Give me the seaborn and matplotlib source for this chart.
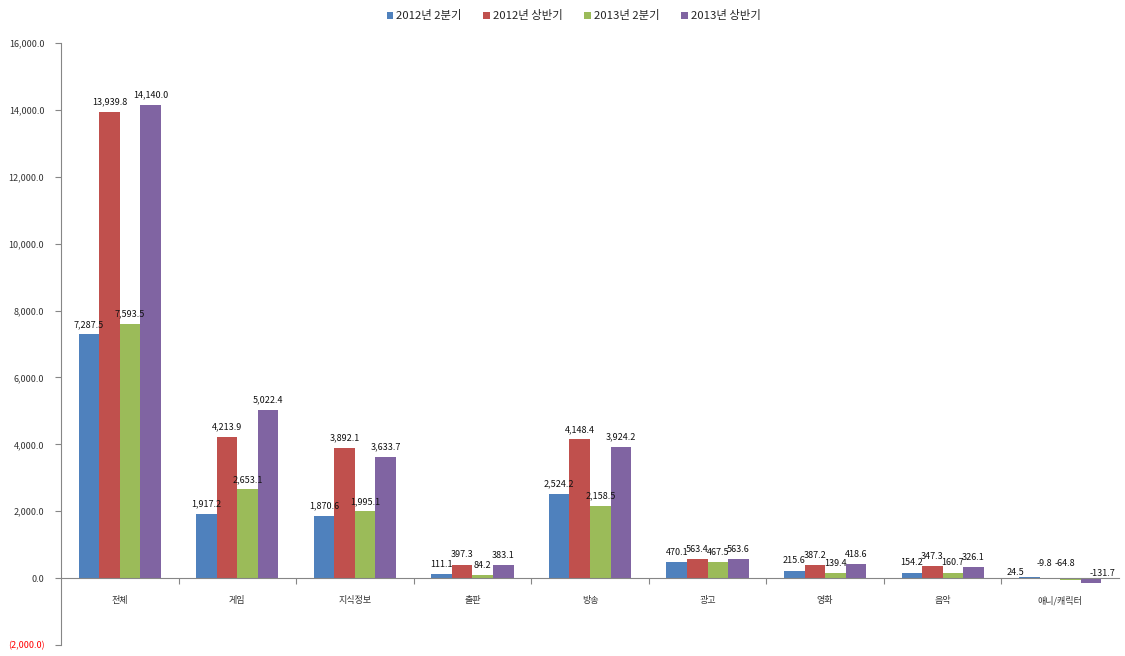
import matplotlib
matplotlib.use("Agg")
import matplotlib.pyplot as plt
import seaborn as sns
import pandas as pd
import numpy as np
from matplotlib.ticker import FuncFormatter, FixedLocator
from matplotlib.patches import Patch

categories = ["전체", "게임", "지식정보", "출판", "방송", "광고", "영화", "음악", "애니/캐릭터"]
series_names = ["2012년 2분기", "2012년 상반기", "2013년 2분기", "2013년 상반기"]
s2012q2 = [7287.5, 1917.2, 1870.6, 111.1, 2524.2, 470.1, 215.6, 154.2, 24.5]
s2012h1 = [13939.8, 4213.9, 3892.1, 397.3, 4148.4, 563.4, 387.2, 347.3, -9.8]
s2013q2 = [7593.5, 2653.1, 1995.1, 84.2, 2158.5, 467.5, 139.4, 160.7, -64.8]
s2013h1 = [14140.0, 5022.4, 3633.7, 383.1, 3924.2, 563.6, 418.6, 326.1, -131.7]
colors = ["#4F81BD", "#C0504D", "#9BBB59", "#8064A2"]

rows = []
for name, vals in zip(series_names, [s2012q2, s2012h1, s2013q2, s2013h1]):
    for c, v in zip(categories, vals):
        rows.append({"category": c, "series": name, "value": v})
df = pd.DataFrame(rows)

sns.set_style("white")
plt.rcParams["font.family"] = ["Noto Sans CJK KR", "DejaVu Sans"]

fig = plt.figure(figsize=(11.25, 6.56), dpi=100)
ax = fig.add_axes([61/1125, 1 - 645/656, (1119 - 61)/1125, (645 - 43)/656])

sns.barplot(data=df, x="category", y="value", hue="series", order=categories,
            hue_order=series_names, palette=colors, width=0.7, saturation=1,
            ax=ax, legend=False, errorbar=None, linewidth=0)

ax.set_ylim(-2000, 16000)
ax.set_xlim(-0.5, len(categories) - 0.5)
ax.set_yticks(np.arange(-2000, 16001, 2000))

def fmt(v, pos):
    if v < 0:
        return f"({abs(v):,.1f})"
    return f"{v:,.1f}"
ax.yaxis.set_major_formatter(FuncFormatter(fmt))

ax.spines["top"].set_visible(False)
ax.spines["right"].set_visible(False)
ax.spines["left"].set_color("#868686")
ax.spines["bottom"].set_color("#868686")
ax.spines["bottom"].set_position(("data", 0))

ax.tick_params(axis="y", which="major", length=4, width=0.8, color="#868686",
               labelsize=6.5, pad=8, left=True, labelcolor="#333333")
ax.tick_params(axis="x", which="major", length=0, labelsize=6.5, pad=13, labelcolor="#333333")
ax.xaxis.set_minor_locator(FixedLocator(np.arange(0.5, len(categories) - 0.5, 1)))
ax.tick_params(axis="x", which="minor", length=4, width=0.8, color="#868686", bottom=True)
ax.set_xlabel("")
ax.set_ylabel("")

fig.canvas.draw()
for lbl in ax.get_yticklabels():
    if lbl.get_text().startswith("("):
        lbl.set_color("#FF0000")

# data labels
last = len(categories) - 1
special_offsets = {0: (-10, 0), 1: (-4, 7), 2: (-4, 7), 3: (8, 0)}
for si, cont in enumerate(ax.containers):
    for ci, bar in enumerate(cont):
        h = bar.get_height()
        x = bar.get_x() + bar.get_width() / 2
        y = max(h, 0)
        dx, dy = 0, 4
        if ci == last:
            dx, dy = special_offsets[si]
        ax.annotate(f"{h:,.1f}", (x, y), xytext=(dx, dy), textcoords="offset points",
                    ha="center", va="bottom", fontsize=6.5, color="#111111")

handles = [Patch(facecolor=c, edgecolor="none") for c in colors]
fig.legend(handles, series_names, loc="upper center", bbox_to_anchor=(0.51, 1.0),
           ncol=4, frameon=False, fontsize=8.2, handlelength=0.55, handleheight=0.55,
           handletextpad=0.3, columnspacing=1.9)

fig.savefig("out.png", dpi=100)
